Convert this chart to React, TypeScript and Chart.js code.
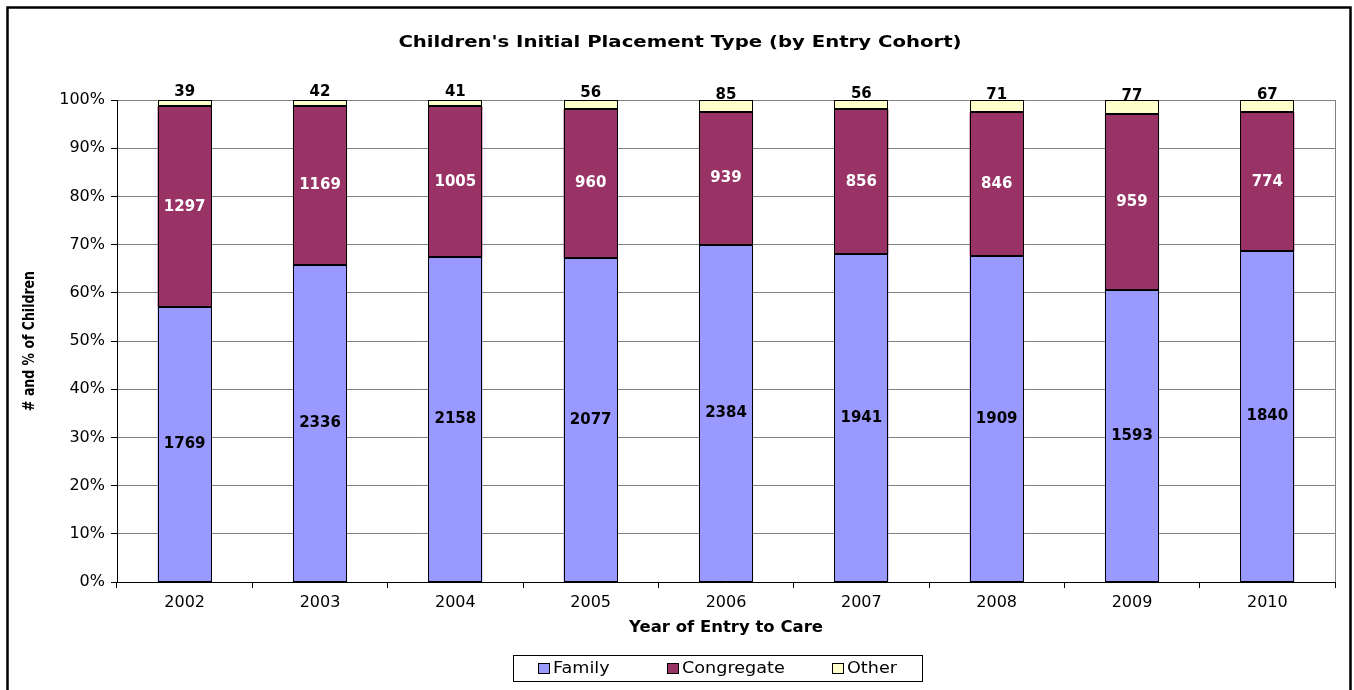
import React, { useEffect, useRef } from "react";
import { Chart, registerables } from "chart.js";

Chart.register(...registerables);

const years = ["2002", "2003", "2004", "2005", "2006", "2007", "2008", "2009", "2010"];
const family = [1769, 2336, 2158, 2077, 2384, 1941, 1909, 1593, 1840];
const congregate = [1297, 1169, 1005, 960, 939, 856, 846, 959, 774];
const other = [39, 42, 41, 56, 85, 56, 71, 77, 67];
const seriesNames = ["Family", "Congregate", "Other"];
const seriesColors = ["#9999FF", "#993366", "#FFFFCC"];
const labelColors = ["#000000", "#FFFFFF", "#000000"];
const chartTitle = "Children's Initial Placement Type (by Entry Cohort)";
const xTitle = "Year of Entry to Care";
const yTitle = "# and % of Children";

const FONT = "'DejaVu Sans', sans-serif";

const counts = [family, congregate, other];
const totals = years.map((_, i) => family[i] + congregate[i] + other[i]);
const pct = (arr: number[]) => arr.map((v, i) => (v / totals[i]) * 100);

function stretchedText(ctx: any, text: string, x: number, y: number, font: string, sx: number, align: string) {
  ctx.save();
  ctx.font = font;
  ctx.textAlign = align;
  ctx.textBaseline = "middle";
  ctx.translate(x, y);
  ctx.scale(sx, 1);
  ctx.fillText(text, 0, 0);
  ctx.restore();
}

const decorPlugin = {
  id: "decor",
  afterDatasetsDraw(chart: any) {
    const ctx = chart.ctx;
    const area = chart.chartArea;
    ctx.save();
    // bar outlines
    ctx.strokeStyle = "#000";
    ctx.lineWidth = 1;
    chart.data.datasets.forEach((ds: any, di: number) => {
      const meta = chart.getDatasetMeta(di);
      meta.data.forEach((bar: any) => {
        const l = Math.round(bar.x - bar.width / 2) + 0.5;
        const r = Math.round(bar.x + bar.width / 2) - 0.5;
        const t = Math.round(Math.min(bar.y, bar.base)) + 0.5;
        const b = Math.round(Math.max(bar.y, bar.base)) - 0.5;
        ctx.strokeRect(l, t, r - l, b - t);
      });
    });
    // value labels
    ctx.textAlign = "center";
    ctx.textBaseline = "middle";
    ctx.font = `bold 15px ${FONT}`;
    chart.data.datasets.forEach((ds: any, di: number) => {
      const meta = chart.getDatasetMeta(di);
      meta.data.forEach((bar: any, i: number) => {
        const mid = (bar.y + bar.base) / 2;
        const y = di === 2 ? mid - 11 : mid;
        ctx.fillStyle = labelColors[di];
        ctx.fillText(String(counts[di][i]), bar.x, y);
      });
    });
    // right border of plot area
    ctx.strokeStyle = "#808080";
    ctx.lineWidth = 1;
    ctx.beginPath();
    ctx.moveTo(Math.round(area.right) + 0.5, area.top);
    ctx.lineTo(Math.round(area.right) + 0.5, area.bottom);
    ctx.stroke();
    ctx.restore();
  },
  afterDraw(chart: any) {
    const ctx = chart.ctx;
    const area = chart.chartArea;
    ctx.save();
    // outer frame
    ctx.strokeStyle = "#000";
    ctx.lineWidth = 2.5;
    ctx.beginPath();
    ctx.moveTo(7.5, 700);
    ctx.lineTo(7.5, 7.5);
    ctx.lineTo(1350.5, 7.5);
    ctx.lineTo(1350.5, 700);
    ctx.stroke();
    ctx.fillStyle = "#000";
    // title
    stretchedText(ctx, chartTitle, 680, 43, `bold 16px ${FONT}`, 1.23, "center");
    // x title
    stretchedText(ctx, xTitle, (area.left + area.right) / 2, 628, `bold 15px ${FONT}`, 1.1, "center");
    // y title
    ctx.save();
    ctx.translate(30, (area.top + area.bottom) / 2);
    ctx.rotate(-Math.PI / 2);
    ctx.scale(1, 1.2);
    ctx.font = `bold 12.5px ${FONT}`;
    ctx.textAlign = "center";
    ctx.textBaseline = "middle";
    ctx.fillText(yTitle, 0, 0);
    ctx.restore();
    // legend
    ctx.strokeStyle = "#000";
    ctx.lineWidth = 1;
    ctx.strokeRect(513.5, 655.5, 409, 26);
    const markerX = [538, 667, 832];
    seriesNames.forEach((name, i) => {
      ctx.fillStyle = seriesColors[i];
      ctx.fillRect(markerX[i] + 0.5, 663.5, 11, 10);
      ctx.strokeRect(markerX[i] + 0.5, 663.5, 11, 10);
      ctx.fillStyle = "#000";
      stretchedText(ctx, name, markerX[i] + 15, 669, `16px ${FONT}`, 1.1, "left");
    });
    ctx.restore();
  },
};

export default function App() {
  const ref = useRef<HTMLCanvasElement | null>(null);
  useEffect(() => {
    document.body.style.margin = "0";
    const chart = new Chart(ref.current as HTMLCanvasElement, {
      type: "bar",
      data: {
        labels: years,
        datasets: seriesNames.map((name, i) => ({
          label: name,
          data: pct(counts[i]),
          backgroundColor: seriesColors[i],
          borderWidth: 0,
          categoryPercentage: 1,
          barPercentage: 0.4,
        })),
      },
      options: {
        responsive: false,
        animation: false,
        layout: { padding: { top: 100, right: 19, bottom: 58, left: 0 } },
        plugins: {
          legend: { display: false },
          title: { display: false },
          tooltip: { enabled: false },
        },
        scales: {
          x: {
            stacked: true,
            grid: {
              offset: true,
              drawOnChartArea: false,
              drawTicks: true,
              tickLength: 6,
              tickColor: "#000",
            },
            border: { color: "#000", width: 1 },
            ticks: { color: "#000", font: { family: FONT, size: 16 }, padding: 5, maxRotation: 0 },
            afterFit(scale: any) {
              scale.height = 50;
            },
          },
          y: {
            stacked: true,
            min: 0,
            max: 100,
            grid: { color: "#808080", tickLength: 6, tickColor: "#000" },
            border: { color: "#000", width: 1 },
            ticks: {
              stepSize: 10,
              color: "#000",
              font: { family: FONT, size: 16 },
              padding: 6,
              callback: (v: any) => v + "%",
            },
            afterFit(scale: any) {
              scale.width = 117;
            },
          },
        },
      },
      plugins: [decorPlugin],
    });
    return () => chart.destroy();
  }, []);
  return (
    <div style={{ position: "absolute", left: 0, top: 0, width: 1354, height: 690 }}>
      <canvas ref={ref} width={1354} height={690} />
    </div>
  );
}
